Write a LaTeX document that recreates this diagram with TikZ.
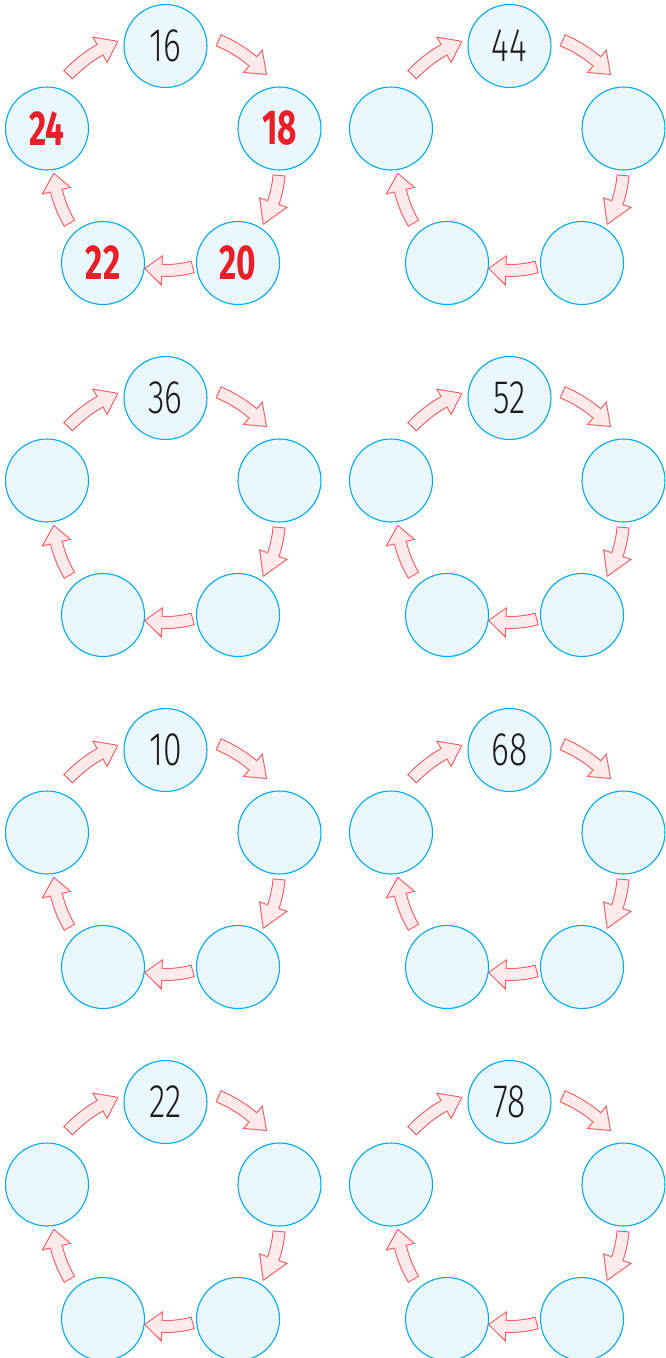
\documentclass[tikz,border=0pt]{standalone}
\usepackage{fontspec}
\newfontfamily\givenfont{Fira Sans Light}[FakeStretch=0.72]
\newfontfamily\foundfont{Fira Sans}[FakeStretch=0.68]
\definecolor{ringline}{RGB}{0,170,235}
\definecolor{ringfill}{RGB}{234,247,253}
\definecolor{turnline}{RGB}{238,100,105}
\definecolor{turnfill}{RGB}{253,234,234}
\definecolor{numblack}{RGB}{30,28,30}
\definecolor{numred}{RGB}{232,30,40}

% curved block arrow round the middle of a ring:
% start angle, head angle, tip angle, radius
\newcommand\turnarrow[4]{%
  \draw[turn] (#1:#4+6) arc[start angle=#1, end angle=#2, radius=#4+6]
    -- (#2:#4+14.5) -- (#3:#4) -- (#2:#4-14.5) -- (#2:#4-6)
    arc[start angle=#2, end angle=#1, radius=#4-6] -- cycle;}

\begin{document}
\begin{tikzpicture}[
  x=1pt, y=1pt,
  every node/.style={
    circle, draw=ringline, fill=ringfill, line width=1.1pt,
    minimum size=83pt, inner sep=0pt
  },
  given/.style={text=numblack, font=\givenfont\fontsize{47}{47}\selectfont},
  found/.style={text=numred, font=\foundfont\bfseries\fontsize{49}{49}\selectfont},
  turn/.style={draw=turnline, fill=turnfill, line width=1pt, line join=miter},
]
\useasboundingbox (0,0) rectangle (665,-1358);

% ---- Eight rings of five, first number given ----
\foreach \col/\row/\first [count=\i] in {0/0/16, 1/0/44,
                                        0/1/36, 1/1/52,
                                        0/2/10, 1/2/68,
                                        0/3/22, 1/3/78} {
  \begin{scope}[shift={(165.5+344*\col, -165.5-352*\row)}]
    \coordinate (mid\i) at (0,0);

    % ---- Arrows ----
    \turnarrow{67}{50}{42}{136}
    \turnarrow{-5}{-19}{-31}{114}
    \turnarrow{-75}{-92}{-101.5}{105}
    \turnarrow{-149}{-167}{-176}{112}
    \turnarrow{137}{119.5}{111}{133}

    % ---- Rings ----
    \node[given] (top\i)   at (0,119.5)      {\first};
    \node[found] (right\i) at (114,37)       {\ifnum\i=1 18\fi};
    \node[found] (lowr\i)  at (72.5,-97.5)   {\ifnum\i=1 20\fi};
    \node[found] (lowl\i)  at (-62.5,-97.5)  {\ifnum\i=1 22\fi};
    \node[found] (left\i)  at (-118.5,37)    {\ifnum\i=1 24\fi};
  \end{scope}
}

\end{tikzpicture}
\end{document}
